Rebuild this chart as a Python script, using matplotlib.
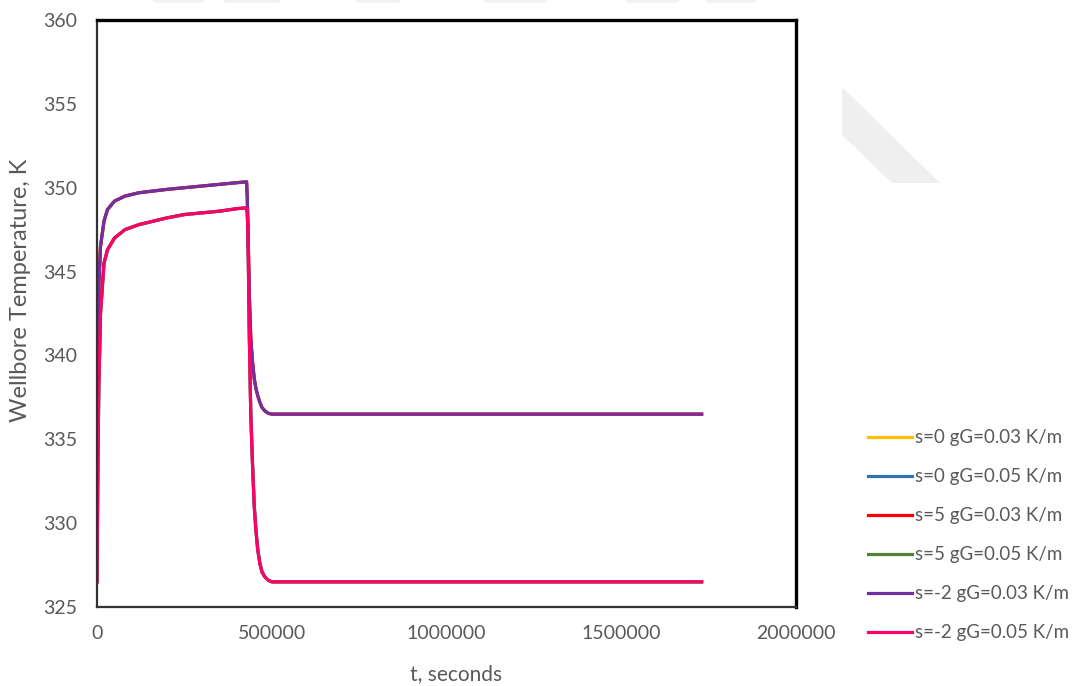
import matplotlib
matplotlib.use("Agg")
import matplotlib.pyplot as plt
from matplotlib.patches import Polygon

# Time after start of production/shut-in, seconds
time_s = [0, 2000, 5000, 10000, 20000, 30000, 50000, 80000, 120000, 160000,
          200000, 250000, 300000, 350000, 400000, 428000, 430000, 432000,
          436000, 440000, 445000, 450000, 455000, 460000, 466000, 472000,
          480000, 490000, 500000, 520000, 600000, 1000000, 1730000]

# Wellbore temperature (K), geothermal gradient 0.03 K/m
temp_g003 = [336.5, 341.0, 344.0, 346.5, 348.0, 348.7, 349.2, 349.5, 349.7, 349.8,
             349.9, 350.0, 350.1, 350.2, 350.3, 350.35, 349.4, 347.5,
             343.5, 341.0, 339.6, 338.6, 338.0, 337.6, 337.2, 336.9,
             336.7, 336.55, 336.5, 336.5, 336.5, 336.5, 336.5]

# Wellbore temperature (K), geothermal gradient 0.05 K/m
temp_g005 = [326.5, 332.0, 338.0, 342.5, 345.5, 346.3, 347.0, 347.5, 347.8, 348.0,
             348.2, 348.4, 348.5, 348.6, 348.75, 348.8, 348.5, 347.3,
             341.0, 336.5, 333.5, 331.0, 329.5, 328.4, 327.6, 327.1,
             326.8, 326.6, 326.5, 326.5, 326.5, 326.5, 326.5]

series_labels = ["s=0 gG=0.03 K/m", "s=0 gG=0.05 K/m", "s=5 gG=0.03 K/m",
                 "s=5 gG=0.05 K/m", "s=-2 gG=0.03 K/m", "s=-2 gG=0.05 K/m"]
series_temps = [temp_g003, temp_g005, temp_g003, temp_g005, temp_g003, temp_g005]
series_colors = ["#FFC000", "#2E75B6", "#FF0000", "#548235", "#7030A0", "#FF0066"]

x_ticks = [0, 500000, 1000000, 1500000, 2000000]
y_ticks = [325, 330, 335, 340, 345, 350, 355, 360]

plt.rcParams['font.family'] = ['Lato', 'DejaVu Sans']
text_color = "#595959"

fig = plt.figure(figsize=(10.77, 6.86), dpi=100)
fig.patch.set_facecolor("white")

# faint background emblem shapes
wm = "#efefef"
fig.patches.append(Polygon([(842 / 1077, 1 - 87 / 686), (940 / 1077, 1 - 183 / 686),
                            (892 / 1077, 1 - 183 / 686), (842 / 1077, 1 - 135 / 686)],
                           closed=True, transform=fig.transFigure,
                           facecolor=wm, edgecolor="none", zorder=0))
for x0, x1 in [(152, 205), (222, 282), (355, 402), (482, 548), (625, 680), (705, 758)]:
    fig.patches.append(Polygon([(x0 / 1077, 1.0), (x1 / 1077, 1.0),
                                ((x1 - 4) / 1077, 1 - 3 / 686), ((x0 + 4) / 1077, 1 - 3 / 686)],
                               closed=True, transform=fig.transFigure,
                               facecolor="#f2f2f2", edgecolor="none", zorder=0))

ax = fig.add_axes([97 / 1077, 1 - 607 / 686, (796 - 97) / 1077, (607 - 20) / 686])

for label, temps, color in zip(series_labels, series_temps, series_colors):
    ax.plot(time_s, temps, color=color, lw=2.3, label=label, solid_joinstyle="round")

ax.set_xlim(0, 2000000)
ax.set_ylim(325, 360)
ax.set_xticks(x_ticks)
ax.set_xticklabels([str(v) for v in x_ticks])
ax.set_yticks(y_ticks)
ax.set_yticklabels([str(v) for v in y_ticks])
ax.tick_params(length=0, labelsize=14, colors=text_color)
ax.tick_params(axis="x", pad=13)
ax.tick_params(axis="y", pad=14)

for side in ["left", "bottom"]:
    ax.spines[side].set_linewidth(1.6)
    ax.spines[side].set_color("#333333")
for side in ["top", "right"]:
    ax.spines[side].set_linewidth(2.4)
    ax.spines[side].set_color("black")

ax.set_xlabel("t, seconds", fontsize=15, color=text_color)
ax.set_ylabel("Wellbore Temperature, K", fontsize=17, color=text_color)
ax.xaxis.set_label_coords(0.514, -0.097)
ax.yaxis.set_label_coords(-0.095, 0.54)

leg = ax.legend(loc="upper left", bbox_to_anchor=(860.5 / 1077, 1 - 422 / 686),
                bbox_transform=fig.transFigure, frameon=False, fontsize=13.5,
                handlelength=2.35, handletextpad=0.15, labelspacing=1.17,
                borderaxespad=0)
for t in leg.get_texts():
    t.set_color(text_color)

fig.savefig("out.png", dpi=100, facecolor="white")
